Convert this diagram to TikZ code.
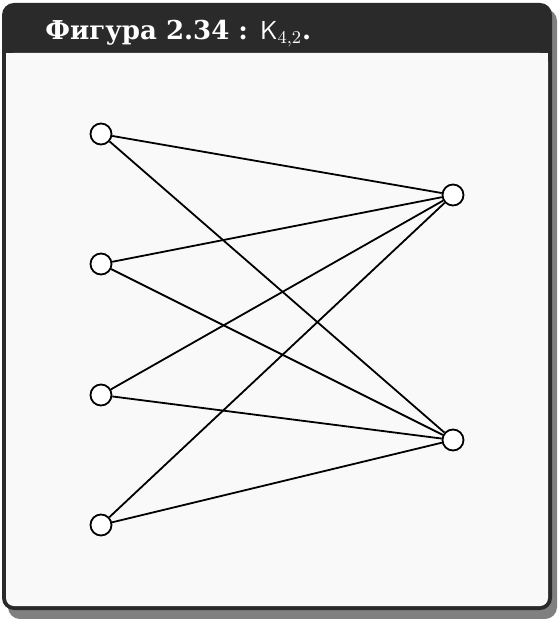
\documentclass[tikz,border=0pt]{standalone}
\usepackage{fontspec}
\setmainfont{Liberation Serif}
\newfontfamily\titlefont{DejaVu Serif}
\usepackage{tikz}
\usetikzlibrary{positioning}
\definecolor{headdark}{HTML}{2A2A2A}
\definecolor{bodylight}{HTML}{F9F9F9}
\definecolor{shadowgray}{HTML}{808080}

\begin{document}
\begin{tikzpicture}[x=0.5pt,y=-0.5pt,
    vertex/.style={circle,draw,fill=white,line width=0.9pt,minimum size=10.5pt,inner sep=0pt},
    edge/.style={line width=0.9pt}]
  % Canvas in pixel units of the reference (557 x 619)
  \useasboundingbox (0,0) rectangle (557,619);

  % Shadow, dark frame and light body
  \fill[shadowgray, rounded corners=6pt] (8,9) rectangle (557,619);
  \fill[headdark, rounded corners=6pt] (2,3) rectangle (552,610);
  \fill[bodylight, rounded corners=4pt] (6,53) rectangle (548,606);
  \fill[bodylight] (6,53) rectangle (548,80);

  % Title
  \node[anchor=base west, text=white, font=\titlefont\fontsize{13}{15}\selectfont\bfseries, inner sep=0pt]
    (title) at (45,40) {Фигура 2.34 : $\mathsf{K}_{4,2}$.};

  % Left part (4 vertices) and right part (2 vertices)
  \node[vertex] (l1) at (101,134) {};
  \node[vertex] (l2) at (101,264) {};
  \node[vertex] (l3) at (101,395) {};
  \node[vertex] (l4) at (101,525) {};
  \node[vertex] (r1) at (453,195) {};
  \node[vertex] (r2) at (453,440) {};

  % Every left vertex joined to every right vertex
  \foreach \i in {1,...,4}
    \foreach \j in {1,2}
      \draw[edge] (l\i) -- (r\j);
\end{tikzpicture}
\end{document}
